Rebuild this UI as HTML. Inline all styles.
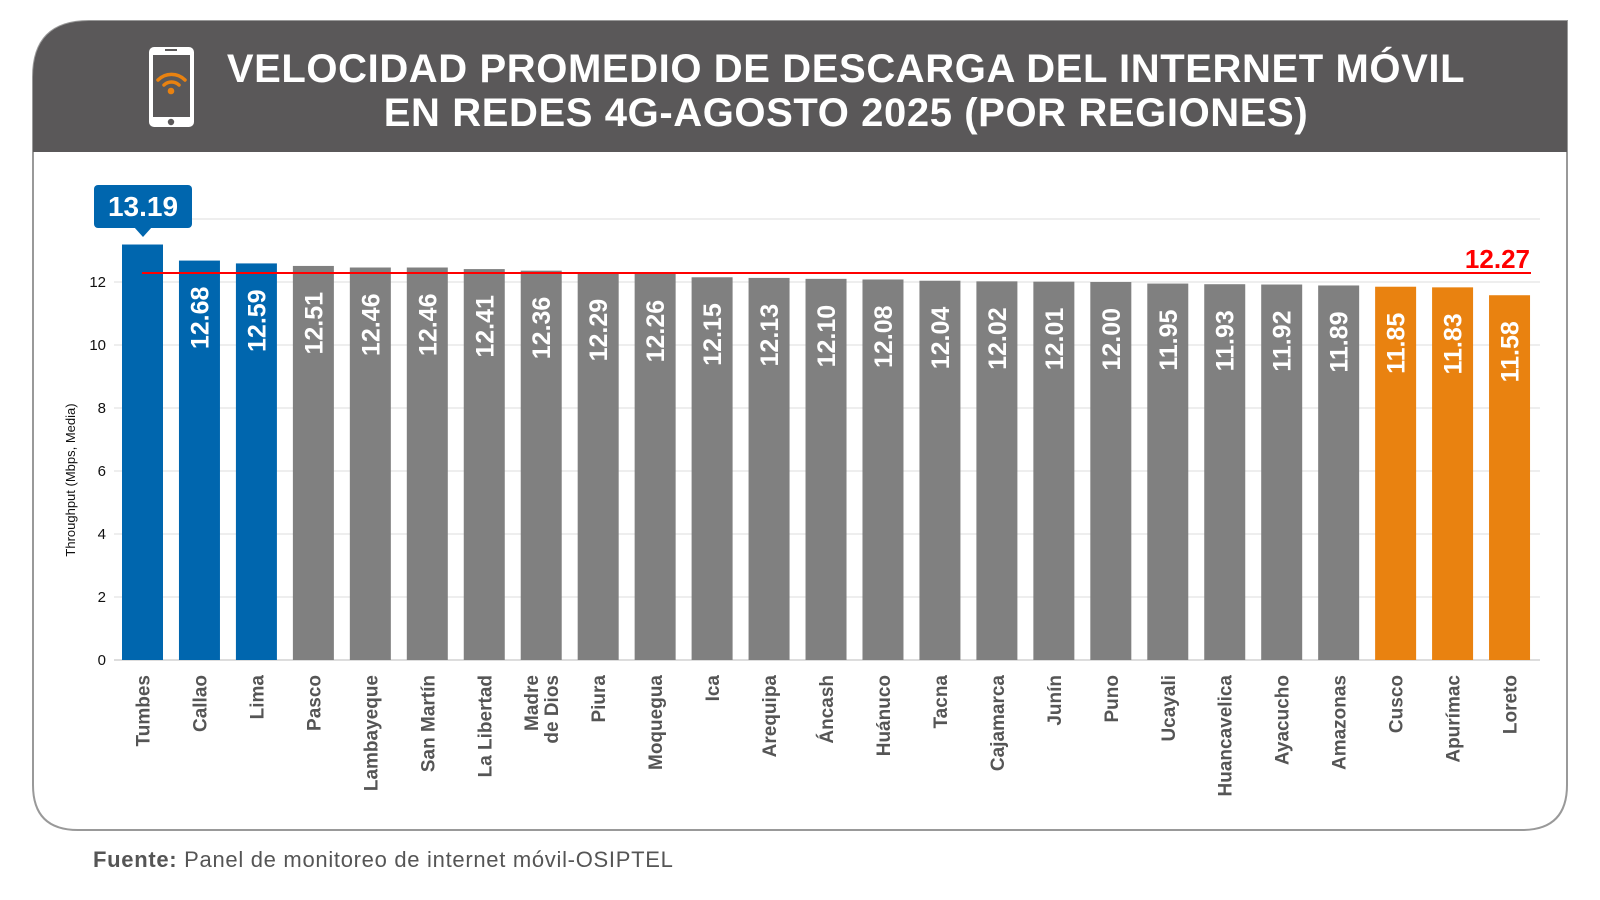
<!DOCTYPE html>
<html><head><meta charset="utf-8"><style>
html,body{margin:0;padding:0;background:#fff;}
svg{display:block;font-family:"Liberation Sans",sans-serif;}
</style></head><body>
<svg width="1600" height="900" viewBox="0 0 1600 900" xmlns="http://www.w3.org/2000/svg">
<path d="M33,152 L33,77 Q33,21 89,21 L1567,21 L1567,785 Q1567,830 1522,830 L78,830 Q33,830 33,785 Z" fill="#fff" stroke="#999" stroke-width="2"/>
<path d="M33,152 L33,77 Q33,21 89,21 L1567,21 L1567,152 Z" fill="#5a5859"/>
<g>
<rect x="149" y="47" width="45" height="80" rx="5" fill="#fff"/>
<rect x="153" y="55" width="37" height="62" fill="#5a5859"/>
<circle cx="171" cy="122" r="3.2" fill="#5a5859"/>
<rect x="165" y="49" width="12" height="2" fill="#5a5859"/>
<path d="M158,80 A19,19 0 0 1 185,80" fill="none" stroke="#e98210" stroke-width="3.5" stroke-linecap="round"/>
<path d="M164,85 A11,11 0 0 1 179,85" fill="none" stroke="#e98210" stroke-width="3.5" stroke-linecap="round"/>
<circle cx="171" cy="91" r="3.3" fill="#e98210"/>
</g>
<text x="846" y="82" text-anchor="middle" fill="#fff" font-weight="bold" font-size="40" letter-spacing="0.6">VELOCIDAD PROMEDIO DE DESCARGA DEL INTERNET MÓVIL</text>
<text x="846" y="126" text-anchor="middle" fill="#fff" font-weight="bold" font-size="40" letter-spacing="0.6">EN REDES 4G-AGOSTO 2025 (POR REGIONES)</text>
<g stroke="#e8e8e8" stroke-width="1.5">
<line x1="114" x2="1540" y1="219" y2="219"/><line x1="114" x2="1540" y1="282" y2="282"/><line x1="114" x2="1540" y1="345" y2="345"/><line x1="114" x2="1540" y1="408" y2="408"/><line x1="114" x2="1540" y1="471" y2="471"/><line x1="114" x2="1540" y1="534" y2="534"/><line x1="114" x2="1540" y1="597" y2="597"/><line x1="114" x2="1540" y1="660" y2="660" stroke="#ddd" stroke-width="2"/>
</g>
<g font-size="15" fill="#111" text-anchor="end">
<text x="106" y="287">12</text><text x="106" y="350">10</text><text x="106" y="413">8</text><text x="106" y="476">6</text><text x="106" y="539">4</text><text x="106" y="602">2</text><text x="106" y="665">0</text>
</g>
<text transform="translate(75,480) rotate(-90)" text-anchor="middle" font-size="13" fill="#111">Throughput (Mbps, Media)</text>
<g id="bars"></g>
<line x1="142" x2="1531" y1="273" y2="273" stroke="#f00" stroke-width="2"/>
<text x="1530" y="268" text-anchor="end" fill="#f00" font-weight="bold" font-size="26">12.27</text>
<rect x="94" y="185" width="98" height="43" rx="4" fill="#0066ae"/>
<path d="M134,227 L143,237 L152,227 Z" fill="#0066ae"/>
<text x="143" y="216" text-anchor="middle" fill="#fff" font-weight="bold" font-size="28">13.19</text>
<text x="93" y="867" font-size="22" fill="#555" letter-spacing="0.7"><tspan font-weight="bold">Fuente:</tspan> Panel de monitoreo de internet móvil-OSIPTEL</text>
</svg>
<script>
var d=[["Tumbes",13.19],["Callao",12.68],["Lima",12.59],["Pasco",12.51],["Lambayeque",12.46],["San Martín",12.46],["La Libertad",12.41],["Madre|de Dios",12.36],["Piura",12.29],["Moquegua",12.26],["Ica",12.15],["Arequipa",12.13],["Áncash",12.10],["Huánuco",12.08],["Tacna",12.04],["Cajamarca",12.02],["Junín",12.01],["Puno",12.00],["Ucayali",11.95],["Huancavelica",11.93],["Ayacucho",11.92],["Amazonas",11.89],["Cusco",11.85],["Apurímac",11.83],["Loreto",11.58]];
var g=document.getElementById('bars'),s='';
d.forEach(function(e,i){
var x=122+i*56.96,h=e[1]*31.5,y=660-h,c=i<3?'#0066ae':(i>21?'#e98210':'#808080'),cx=x+20.5;
s+='<rect x="'+x+'" y="'+y+'" width="41" height="'+h+'" fill="'+c+'"/>';
if(i>0)s+='<text transform="translate('+(cx+9)+','+(y+26)+') rotate(-90)" text-anchor="end" fill="#fff" font-weight="bold" font-size="25">'+e[1].toFixed(2)+'</text>';
var L=e[0].split('|');
if(L.length==1)s+='<text transform="translate('+(cx+7)+',675) rotate(-90)" text-anchor="end" fill="#555" font-weight="bold" font-size="19">'+L[0]+'</text>';
else{s+='<text transform="translate('+(cx-3)+',675) rotate(-90)" text-anchor="end" fill="#555" font-weight="bold" font-size="19">'+L[0]+'</text>';
s+='<text transform="translate('+(cx+17)+',675) rotate(-90)" text-anchor="end" fill="#555" font-weight="bold" font-size="19">'+L[1]+'</text>';}
});
g.innerHTML=s;
</script>
</body></html>
